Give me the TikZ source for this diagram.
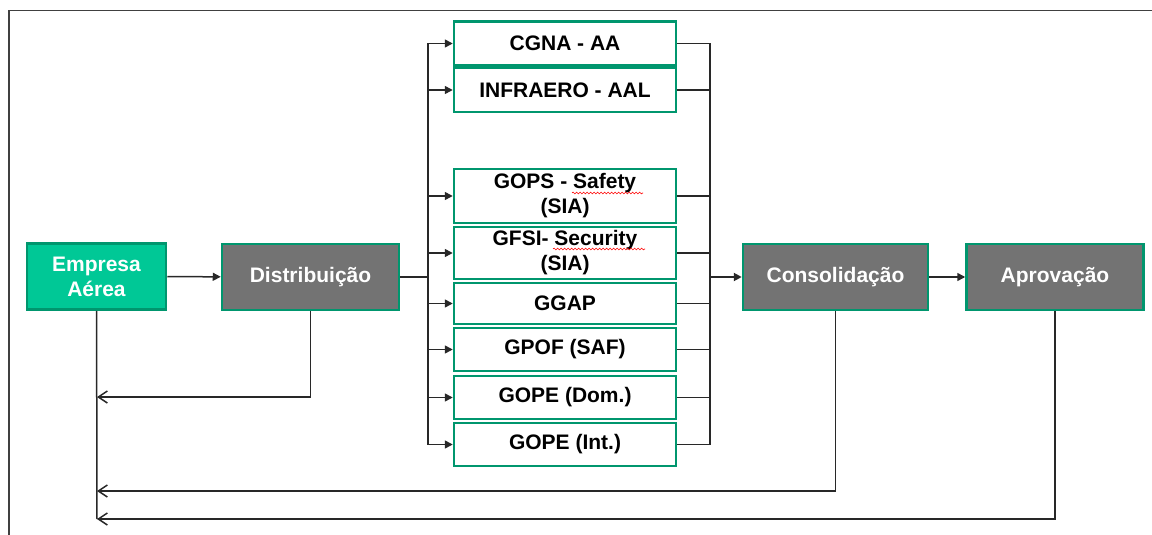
\documentclass[tikz,border=0pt]{standalone}
\usepackage{fontspec}
\setmainfont{Liberation Sans}
\usetikzlibrary{arrows.meta}
\usetikzlibrary{decorations.pathmorphing}

\definecolor{boxgreen}{RGB}{0,150,110}
\definecolor{firmgreen}{RGB}{0,200,150}
\definecolor{stepgray}{RGB}{115,115,115}
\definecolor{linegray}{RGB}{40,40,40}

\tikzset{
  basebox/.style={draw=boxgreen,line width=2.5pt,align=center,inner sep=0pt,font=\bfseries\fontsize{21}{25}\selectfont},
  firmbox/.style={basebox,fill=firmgreen,text=white,minimum height=66pt},
  stepbox/.style={basebox,fill=stepgray,text=white,minimum height=66pt},
  unitbox/.style={basebox,fill=white,text=black,minimum width=222pt},
  link/.style={linegray,line width=1.5pt},
  fwd/.style={link,-{Triangle[length=8pt,width=8pt]}},
  back/.style={link,-{Straight Barb[length=9pt,width=12pt]}},
  spell/.style={red,line width=0.6pt,decorate,decoration={snake,amplitude=0.9pt,segment length=3.5pt}}
}

\begin{document}
\begin{tikzpicture}[x=1pt,y=-1pt]
\useasboundingbox (0,0) rectangle (1152,535);
\draw[black!75,line width=1.6pt] (9,535) -- (9,10.5) -- (1152,10.5);

% main chain
\node[firmbox,minimum width=139pt] (emp) at (96.5,276.5) {Empresa\\Aérea};
\node[stepbox,minimum width=177pt] (dist) at (310.5,277) {Distribuição};
\node[stepbox,minimum width=185pt] (cons) at (835.5,277) {Consolidação};
\node[stepbox,minimum width=177pt] (apr) at (1055,277) {Aprovação};

% units
\node[unitbox,minimum height=44pt] (cgna) at (565,43.5) {CGNA - AA};
\node[unitbox,minimum height=44pt] (infra) at (565,90) {INFRAERO - AAL};
\node[unitbox,minimum height=54pt] (gops) at (565,196) {GOPS - Safety\\(SIA)};
\node[unitbox,minimum height=52pt] (gfsi) at (565,253) {GFSI- Security\\(SIA)};
\node[unitbox,minimum height=41pt] (ggap) at (565,303.5) {GGAP};
\node[unitbox,minimum height=43pt] (gpof) at (565,349.5) {GPOF (SAF)};
\node[unitbox,minimum height=43pt] (gdom) at (565,397.5) {GOPE (Dom.)};
\node[unitbox,minimum height=43pt] (gint) at (565,444.5) {GOPE (Int.)};

\draw[spell] (572,193) -- (643,193);
\draw[spell] (553,249) -- (645,249);

\coordinate (splitL) at (428,277);
\coordinate (splitR) at (710,277);
\coordinate (ret1) at (97,397);
\coordinate (ret2) at (97,491);
\coordinate (ret3) at (97,519);

\draw[fwd] (emp) -- (dist);
\draw[link,line width=2.2pt] (dist) -- (splitL);
\draw[link] (splitL |- cgna) -- (splitL |- gint);
\draw[fwd] (splitL |- cgna) -- (cgna);
\draw[fwd] (splitL |- infra) -- (infra);
\draw[fwd] (splitL |- gops) -- (gops);
\draw[fwd] (splitL |- gfsi) -- (gfsi);
\draw[fwd] (splitL |- ggap) -- (ggap);
\draw[fwd] (splitL |- gpof) -- (gpof);
\draw[fwd] (splitL |- gdom) -- (gdom);
\draw[fwd] (splitL |- gint) -- (gint);

\draw[link] (splitR |- cgna) -- (splitR |- gint);
\draw[link] (cgna) -- (splitR |- cgna);
\draw[link] (infra) -- (splitR |- infra);
\draw[link] (gops) -- (splitR |- gops);
\draw[link] (gfsi) -- (splitR |- gfsi);
\draw[link] (ggap) -- (splitR |- ggap);
\draw[link] (gpof) -- (splitR |- gpof);
\draw[link] (gdom) -- (splitR |- gdom);
\draw[link] (gint) -- (splitR |- gint);
\draw[fwd,line width=2.2pt] (splitR) -- (cons);
\draw[fwd] (cons) -- (apr);

% returns
\draw[link] (emp) -- (ret3);
\draw[back] (dist.south) |- (ret1);
\draw[back] (cons.south) |- (ret2);
\draw[back] (apr.south) |- (ret3);
\end{tikzpicture}
\end{document}
